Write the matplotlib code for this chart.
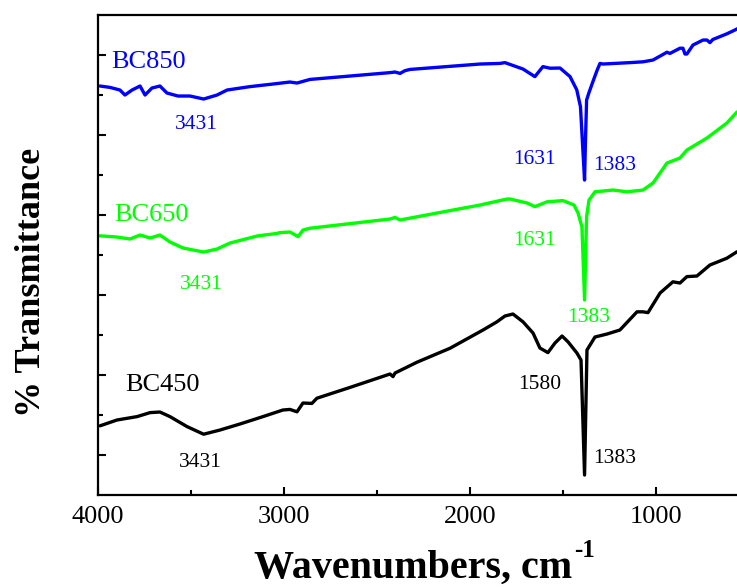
import matplotlib
matplotlib.use("Agg")
import matplotlib.pyplot as plt
from matplotlib.ticker import MultipleLocator, FixedLocator

# FTIR spectra of the biochars (wavenumber in cm-1, offset transmittance)
wn_850 = [3988, 3934, 3881, 3854, 3816, 3773, 3746, 3709, 3666, 3628, 3569, 3504,
          3431, 3359, 3305, 3182, 3058, 2967, 2929, 2859, 2429, 2402, 2375, 2348,
          2321, 1945, 1838, 1811, 1714, 1650, 1607, 1569, 1515, 1461, 1425, 1405,
          1395, 1383, 1378, 1372, 1360, 1335, 1315, 1300, 1284, 1139, 1069, 1015,
          940, 924, 870, 854, 843, 833, 800, 746, 725, 709, 693, 671, 618, 575, 560]
t_850 = [102.25, 101.9, 101.25, 100.0, 101.25, 102.25, 100.0, 101.75, 102.25, 100.5, 99.75, 99.75,
         99.0, 100.0, 101.25, 102.1, 102.75, 103.25, 103.0, 103.9, 105.6, 105.75, 105.4, 106.1,
         106.4, 107.75, 107.9, 108.1, 106.5, 104.6, 107.1, 106.7, 106.75, 104.6, 101.3, 97.1,
         88.75, 78.75, 88.75, 98.75, 100.5, 103.75, 106.25, 107.9, 107.75, 108.1, 108.3, 108.75,
         110.7, 110.4, 111.7, 111.7, 110.25, 110.25, 112.5, 113.75, 113.75, 113.1, 113.9, 114.3, 115.3, 116.25, 116.6]

wn_650 = [3988, 3897, 3827, 3773, 3719, 3666, 3612, 3542, 3431, 3359, 3289, 3144,
          3037, 3021, 2967, 2923, 2897, 2859, 2429, 2402, 2375, 2348, 2090, 1945,
          1800, 1784, 1692, 1650, 1585, 1499, 1440, 1418, 1397, 1383, 1372, 1359,
          1327, 1230, 1155, 1069, 1015, 940, 870, 833, 725, 618, 564]
t_650 = [64.8, 64.5, 64.0, 65.0, 64.25, 65.0, 63.25, 61.75, 60.75, 61.5, 63.0, 64.75,
         65.4, 65.6, 65.75, 64.6, 66.25, 66.7, 69.0, 69.4, 68.75, 69.0, 71.25, 72.5,
         74.0, 74.0, 73.0, 72.1, 73.3, 73.6, 72.5, 70.5, 67.0, 48.75, 69.6, 73.75,
         75.8, 76.25, 75.8, 76.25, 78.0, 83.0, 84.25, 86.25, 89.25, 93.0, 95.75]

wn_450 = [3988, 3897, 3789, 3719, 3666, 3612, 3520, 3431, 3343, 3236, 3112, 3005,
          2967, 2929, 2897, 2849, 2822, 2644, 2429, 2413, 2402, 2284, 2106, 1929,
          1854, 1811, 1768, 1714, 1660, 1623, 1580, 1542, 1504, 1472, 1424, 1402,
          1383, 1370, 1327, 1262, 1193, 1101, 1069, 1042, 977, 908, 870, 833, 779,
          709, 618, 564]
t_450 = [17.3, 18.75, 19.6, 20.6, 20.75, 19.6, 17.1, 15.2, 16.25, 17.75, 19.6, 21.25,
         21.4, 20.8, 23.0, 22.9, 24.2, 26.9, 30.25, 29.6, 30.5, 33.2, 36.7, 41.25,
         43.3, 44.75, 45.25, 43.3, 40.5, 36.75, 35.6, 38.0, 39.75, 38.3, 35.5, 33.75,
         5.0, 36.25, 39.5, 40.25, 41.25, 45.8, 45.8, 45.6, 50.5, 53.3, 53.0, 54.6, 54.75,
         57.5, 59.2, 60.8]

# (text, wavenumber, y) for each label
labels_850 = [("BC850", 3725, 108.25), ("3431", 3472, 92.75),
              ("1631", 1650, 84.0), ("1383", 1220, 82.5)]
labels_650 = [("BC650", 3714, 70.0), ("3431", 3445, 52.75),
              ("1631", 1650, 63.75), ("1383", 1360, 44.5)]
labels_450 = [("BC450", 3655, 27.5), ("3431", 3450, 8.25),
              ("1580", 1623, 27.75), ("1383", 1220, 9.25)]

plt.rcParams['font.family'] = ['Liberation Serif', 'DejaVu Serif']

W, H = 737, 587
fig = plt.figure(figsize=(W / 100, H / 100), dpi=100)
# axes run a little past the right edge of the figure (x axis ends at 500)
ax = fig.add_axes([0.1327, 0.1567, 0.8833, 0.8177])

series = [(wn_850, t_850, "#0000ff", labels_850),
          (wn_650, t_650, "#00ff00", labels_650),
          (wn_450, t_450, "black", labels_450)]

for wn, t, col, labs in series:
    ax.plot(wn, t, color=col, lw=2.4, solid_joinstyle='round', solid_capstyle='round')
    for txt, x, y in labs:
        fs = 19 if txt.startswith("BC") else 15.5
        ax.text(x, y, txt, color=col, fontsize=fs, ha='center', va='center')

ax.set_xlim(4000, 500)
ax.set_ylim(0, 120)
ax.xaxis.set_major_locator(MultipleLocator(1000))
ax.xaxis.set_minor_locator(MultipleLocator(500))
ax.yaxis.set_major_locator(FixedLocator([10, 30, 50, 70, 90, 110]))
ax.yaxis.set_minor_locator(FixedLocator([20, 40, 60, 80, 100]))
ax.set_yticklabels([])
ax.tick_params(which='both', direction='in', width=1.5, top=False, right=False)
ax.tick_params(which='major', length=6)
ax.tick_params(which='minor', length=3.5)
ax.tick_params(axis='x', labelsize=19, pad=8)
for sp in ax.spines.values():
    sp.set_linewidth(1.6)

# axis titles placed in pixel positions of the figure
fig.text(572 / W, 1 - 578 / H, "Wavenumbers, cm", fontsize=28.8, fontweight='bold',
         ha='right', va='baseline')
fig.text(574 / W, 1 - 557 / H, "-1", fontsize=18, fontweight='bold',
         ha='left', va='baseline')
fig.text(31 / W, 1 - 282 / H, "% Transmittance", fontsize=26, fontweight='bold',
         rotation=90, ha='center', va='center')

fig.savefig("out.png", dpi=100)
